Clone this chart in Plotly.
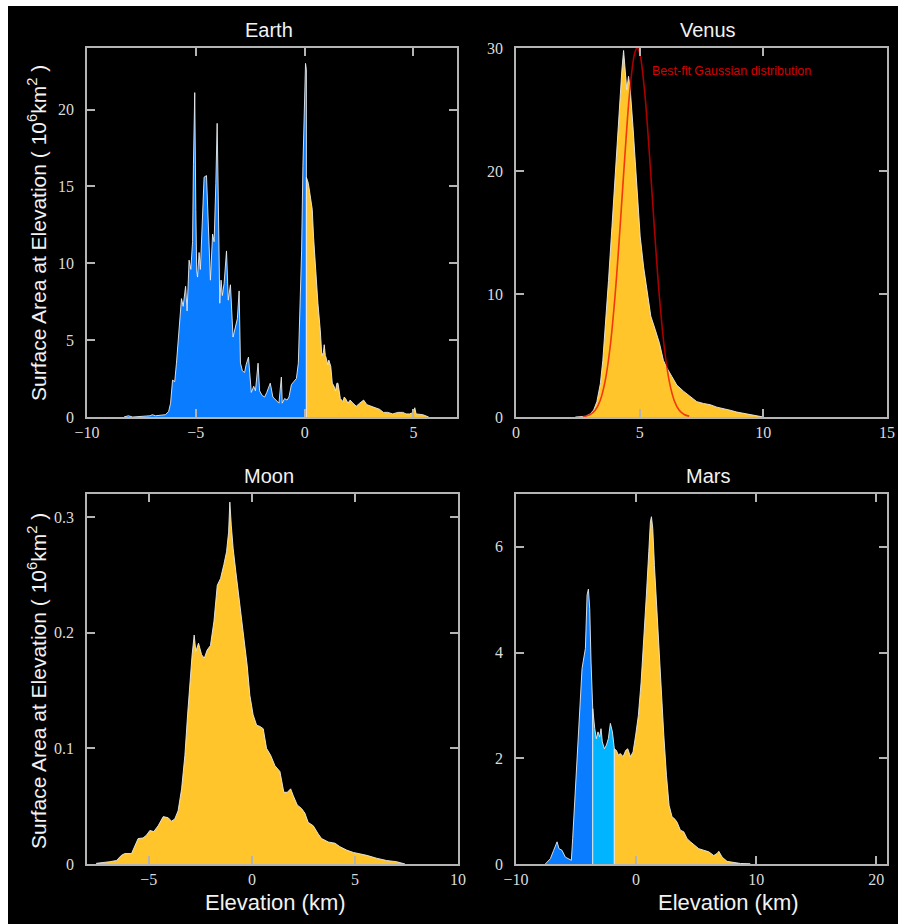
import plotly.graph_objects as go

W, H = 906, 924

# ---------------- data ----------------
earth_ocean_x = [-8.3, -8.1, -7.9, -7.4, -7.1, -7.0, -6.85, -6.6, -6.4, -6.25, -6.16, -6.07, -5.97, -5.89,
                 -5.77, -5.66, -5.58, -5.47, -5.40, -5.31, -5.23, -5.15, -5.11, -5.05, -5.0, -4.96, -4.92,
                 -4.85, -4.79, -4.69, -4.62, -4.51, -4.42, -4.33, -4.23, -4.16, -4.08, -4.02, -3.96, -3.90,
                 -3.84, -3.78, -3.70, -3.59, -3.51, -3.41, -3.29, -3.17, -3.09, -3.01, -2.95, -2.86, -2.76,
                 -2.69, -2.58, -2.52, -2.45, -2.34, -2.26, -2.14, -2.07, -1.95, -1.84, -1.74, -1.58, -1.46,
                 -1.31, -1.18, -1.07, -1.03, -0.92, -0.81, -0.72, -0.61, -0.50, -0.38, -0.29, -0.20, -0.14,
                 -0.08, 0.0, 0.04, 0.08]
earth_ocean_y = [0, 0.08, 0, 0.03, 0.08, 0.15, 0.08, 0.12, 0.15, 0.35, 0.9, 2.4, 2.3, 3.5,
                 5.6, 7.7, 7.2, 8.5, 6.9, 10.2, 9.6, 11.4, 16.4, 21.1, 13.5, 9.5, 9.1,
                 10.7, 9.6, 13.0, 15.6, 15.7, 12.8, 8.9, 11.9, 11.4, 15.2, 19.1, 13.4, 7.4,
                 8.9, 7.9, 8.7, 10.8, 7.6, 8.6, 5.2, 5.9, 6.4, 8.2, 3.5, 3.0, 2.9,
                 3.4, 3.9, 2.8, 1.6, 2.0, 1.7, 3.5, 1.7, 1.4, 1.3, 1.6, 2.2, 1.3,
                 1.1, 0.9, 2.6, 0.9, 1.2, 1.1, 1.3, 2.1, 2.3, 2.5, 3.5, 7.4, 10.8,
                 16.3, 21.2, 23.0, 22.6]

earth_land_x = [0.08, 0.17, 0.26, 0.35, 0.41, 0.50, 0.61, 0.72, 0.79, 0.86, 0.90, 0.95, 1.0, 1.06, 1.11,
                1.2, 1.27, 1.35, 1.42, 1.48, 1.53, 1.64, 1.76, 1.82, 1.88, 1.99, 2.09, 2.22, 2.37, 2.53,
                2.71, 2.86, 3.06, 3.29, 3.44, 3.62, 3.82, 4.05, 4.28, 4.51, 4.66, 4.82, 5.0, 5.06, 5.12,
                5.43, 5.7]
earth_land_y = [15.6, 15.2, 14.2, 13.5, 11.7, 9.5, 7.4, 5.6, 4.0, 4.2, 4.7, 4.0, 3.8, 3.4, 3.7,
                3.3, 2.2, 2.0, 1.7, 2.2, 2.2, 1.2, 1.0, 1.3, 1.2, 0.9, 1.1, 0.9, 0.7, 0.9,
                1.1, 0.8, 0.7, 0.6, 0.5, 0.3, 0.3, 0.2, 0.3, 0.3, 0.2, 0.2, 0.3, 0.6, 0.2,
                0.15, 0]

venus_x = [2.4, 2.7, 2.8, 3.0, 3.14, 3.27, 3.41, 3.51, 3.61, 3.74, 3.88, 4.01, 4.15, 4.28, 4.35, 4.42,
           4.48, 4.55, 4.62, 4.73, 4.82, 4.91, 5.02, 5.16, 5.32, 5.45, 5.63, 5.80, 5.96, 6.10, 6.30,
           6.50, 6.77, 7.04, 7.31, 7.58, 7.85, 8.12, 8.39, 8.66, 8.93, 9.33, 9.74, 10.0]
venus_y = [0, 0.02, 0.05, 0.25, 0.57, 1.25, 2.7, 4.6, 7.3, 11.1, 15.5, 19.8, 24.1, 28.2, 29.8, 27.7,
           26.6, 27.7, 26.6, 23.6, 20.6, 17.6, 14.7, 12.2, 10.1, 8.2, 7.1, 6.0, 4.6, 4.0, 3.3,
           2.6, 2.1, 1.65, 1.25, 1.1, 1.0, 0.8, 0.7, 0.55, 0.4, 0.25, 0.1, 0]

venus_fit_x = [2.7, 2.8, 3.0, 3.2, 3.4, 3.6, 3.8, 4.0, 4.2, 4.4, 4.6, 4.8, 4.9, 5.0, 5.2, 5.4, 5.6,
               5.8, 6.0, 6.2, 6.4, 6.6, 6.8, 7.0]
venus_fit_y = [0.03, 0.07, 0.20, 0.54, 1.32, 2.87, 5.59, 9.74, 15.19, 21.2, 26.48, 29.59, 30.0, 29.59,
               26.48, 21.2, 15.19, 9.74, 5.59, 2.87, 1.32, 0.54, 0.20, 0.07]

moon_x = [-7.54, -6.89, -6.57, -6.33, -6.17, -5.84, -5.76, -5.52, -5.28, -5.11, -4.95, -4.76, -4.55,
          -4.30, -4.06, -3.90, -3.74, -3.58, -3.41, -3.25, -3.12, -3.01, -2.90, -2.80, -2.72, -2.59,
          -2.44, -2.31, -2.17, -2.01, -1.84, -1.68, -1.52, -1.36, -1.23, -1.13, -1.07, -1.0, -0.91,
          -0.78, -0.65, -0.50, -0.34, -0.23, -0.10, 0.06, 0.23, 0.39, 0.55, 0.71, 0.91, 1.12, 1.36,
          1.55, 1.72, 1.88, 2.01, 2.20, 2.41, 2.57, 2.73, 2.98, 3.22, 3.38, 3.71, 4.03, 4.27, 4.60,
          4.92, 5.24, 5.57, 6.05, 6.54, 7.02, 7.43]
moon_y = [0.0006, 0.002, 0.003, 0.0075, 0.009, 0.009, 0.012, 0.022, 0.0225, 0.025, 0.029, 0.028, 0.033,
          0.041, 0.040, 0.037, 0.039, 0.046, 0.065, 0.094, 0.129, 0.158, 0.181, 0.198, 0.184, 0.191,
          0.181, 0.178, 0.185, 0.189, 0.210, 0.241, 0.247, 0.259, 0.270, 0.287, 0.313, 0.293, 0.273,
          0.253, 0.233, 0.210, 0.184, 0.172, 0.146, 0.129, 0.120, 0.119, 0.117, 0.100, 0.094, 0.085, 0.080,
          0.062, 0.062, 0.065, 0.059, 0.051, 0.048, 0.044, 0.036, 0.033, 0.026, 0.022, 0.019, 0.018, 0.015,
          0.012, 0.010, 0.009, 0.0075, 0.005, 0.003, 0.002, 0.0006]

mars_deep_x = [-7.56, -7.14, -6.86, -6.58, -6.42, -6.17, -5.89, -5.61, -5.39, -5.28, -5.06, -4.78, -4.50,
               -4.22, -4.08, -3.97, -3.86, -3.75, -3.61]
mars_deep_y = [0, 0.1, 0.26, 0.42, 0.29, 0.26, 0.13, 0.09, 0.07, 0.48, 1.43, 2.69, 3.70,
               4.08, 5.09, 5.20, 4.83, 3.82, 2.94]
mars_mid_x = [-3.61, -3.44, -3.31, -3.17, -3.03, -2.92, -2.81, -2.64, -2.47, -2.31, -2.14, -1.97, -1.81]
mars_mid_y = [2.94, 2.56, 2.37, 2.50, 2.40, 2.56, 2.31, 2.18, 2.25, 2.37, 2.66, 2.50, 2.18]
mars_high_x = [-1.81, -1.64, -1.47, -1.31, -1.08, -0.86, -0.69, -0.47, -0.25, -0.03, 0.19, 0.42, 0.64,
               0.86, 1.06, 1.19, 1.28, 1.39, 1.53, 1.69, 1.89, 2.08, 2.31, 2.53, 2.75, 3.0, 3.19, 3.42,
               3.69, 3.97, 4.25, 4.53, 4.94, 5.22, 5.64, 6.06, 6.47, 6.75, 6.89, 7.17, 7.58, 8.14, 8.69, 9.5]
mars_high_y = [2.18, 2.15, 2.06, 2.09, 2.03, 2.15, 2.18, 2.03, 2.12, 2.44, 2.81, 3.44, 4.20,
               5.09, 5.91, 6.47, 6.57, 6.35, 5.65, 4.96, 4.20, 3.32, 2.44, 1.68, 1.11, 0.89, 0.86, 0.79,
               0.64, 0.61, 0.48, 0.42, 0.35, 0.29, 0.26, 0.23, 0.16, 0.20, 0.24, 0.13, 0.05, 0.03, 0.01, 0.005]

titles = ["Earth", "Venus", "Moon", "Mars"]
y_title = "Surface Area at Elevation ( 10<sup>6</sup>km<sup>2</sup> )"
x_title = "Elevation (km)"

earth_xticks = [-10, -5, 0, 5]
earth_yticks = [0, 5, 10, 15, 20]
venus_xticks = [0, 5, 10, 15]
venus_yticks = [0, 10, 20, 30]
moon_xticks = [-5, 0, 5, 10]
moon_yticks = [0, 0.1, 0.2, 0.3]
mars_xticks = [-10, 0, 10, 20]
mars_yticks = [0, 2, 4, 6]

# ---------------- style ----------------
BLUE = "#0a7cff"
LIGHTBLUE = "#00b4ff"
YELLOW = "#ffc52a"
OUTLINE = "rgba(235,235,235,0.9)"
AXIS = "#b4b4b4"
TICKFONT = dict(family="Liberation Serif", size=16, color="#dcdcdc")


def px_x(p):
    return p / W


def px_y(p):
    return 1 - p / H


fig = go.Figure()


def area(x, y, color, n):
    xs = [x[0]] + list(x) + [x[-1]]
    ys = [0] + list(y) + [0]
    fig.add_trace(go.Scatter(x=xs, y=ys, mode="lines", fill="toself", fillcolor=color,
                             line=dict(color=OUTLINE, width=1), xaxis="x" + n, yaxis="y" + n,
                             hoverinfo="skip", showlegend=False))


area(earth_ocean_x, earth_ocean_y, BLUE, "")
area(earth_land_x, earth_land_y, YELLOW, "")
area(venus_x, venus_y, YELLOW, "2")
fig.add_trace(go.Scatter(x=venus_fit_x, y=venus_fit_y, mode="lines", xaxis="x2", yaxis="y2",
                         line=dict(color="rgba(235,0,0,0.72)", width=1.6, shape="spline"),
                         hoverinfo="skip", showlegend=False))
area(moon_x, moon_y, YELLOW, "3")
area(mars_deep_x, mars_deep_y, BLUE, "4")
area(mars_mid_x, mars_mid_y, LIGHTBLUE, "4")
area(mars_high_x, mars_high_y, YELLOW, "4")

# panel pixel boxes: (left, right, top, bottom)
boxes = [(87, 457, 48, 417), (516, 887, 48, 417), (87, 458, 494, 864), (516, 887, 494, 864)]
xranges = [[-10, 7], [0, 15], [-8, 10], [-10, 20.9]]
yranges = [[0, 24], [0, 30], [0, 0.32], [0, 7]]
xticks = [earth_xticks, venus_xticks, moon_xticks, mars_xticks]
yticks = [earth_yticks, venus_yticks, moon_yticks, mars_yticks]

layout_axes = {}
for i, (l, r, t, b) in enumerate(boxes):
    n = "" if i == 0 else str(i + 1)
    common = dict(showline=True, linecolor=AXIS, linewidth=1.5, mirror="ticks", ticks="inside",
                  ticklen=8, tickwidth=1.5, tickcolor=AXIS, showgrid=False, zeroline=False,
                  tickfont=TICKFONT, fixedrange=True, automargin=False)
    layout_axes["xaxis" + n] = dict(common, domain=[px_x(l), px_x(r)], range=xranges[i],
                                    tickvals=xticks[i], anchor="y" + n)
    layout_axes["yaxis" + n] = dict(common, domain=[px_y(b), px_y(t)], range=yranges[i],
                                    tickvals=yticks[i], anchor="x" + n, ticklabelstandoff=8)

fig.update_layout(**layout_axes)

annotations = []
title_pos = [(269, 30), (708, 30), (269, 476), (708, 476)]
for txt, (x, y) in zip(titles, title_pos):
    annotations.append(dict(text=txt, x=px_x(x), y=px_y(y), xref="paper", yref="paper",
                            showarrow=False, xanchor="center", yanchor="middle",
                            font=dict(family="Liberation Sans, Arial", size=20, color="#f2f2f2")))
for y in (233, 681):
    annotations.append(dict(text=y_title, x=px_x(37), y=px_y(y), xref="paper", yref="paper",
                            showarrow=False, xanchor="center", yanchor="middle", textangle=-90,
                            font=dict(family="Liberation Sans, Arial", size=21, color="#f2f2f2")))
for x in (275, 728):
    annotations.append(dict(text=x_title, x=px_x(x), y=px_y(902), xref="paper", yref="paper",
                            showarrow=False, xanchor="center", yanchor="middle",
                            font=dict(family="Liberation Sans, Arial", size=22, color="#f2f2f2")))
annotations.append(dict(text="Best-fit Gaussian distribution", x=5.4, y=28.1, xref="x2", yref="y2",
                        showarrow=False, xanchor="left", yanchor="middle",
                        font=dict(family="Liberation Sans, Arial", size=12.5, color="#d80000")))

fig.update_layout(
    template="none",
    autosize=False,
    width=W, height=H,
    margin=dict(l=0, r=0, t=0, b=0, pad=0, autoexpand=False),
    paper_bgcolor="white",
    plot_bgcolor="black",
    annotations=annotations,
    shapes=[dict(type="rect", xref="paper", yref="paper", x0=8 / W, x1=898 / W, y0=0, y1=1 - 6 / H,
                 fillcolor="black", line=dict(width=0), layer="below")],
    showlegend=False,
)

fig.write_html("out.html",
               post_script="document.body.style.margin='0';document.body.style.padding='0';"
                           "document.body.style.overflow='hidden';")
